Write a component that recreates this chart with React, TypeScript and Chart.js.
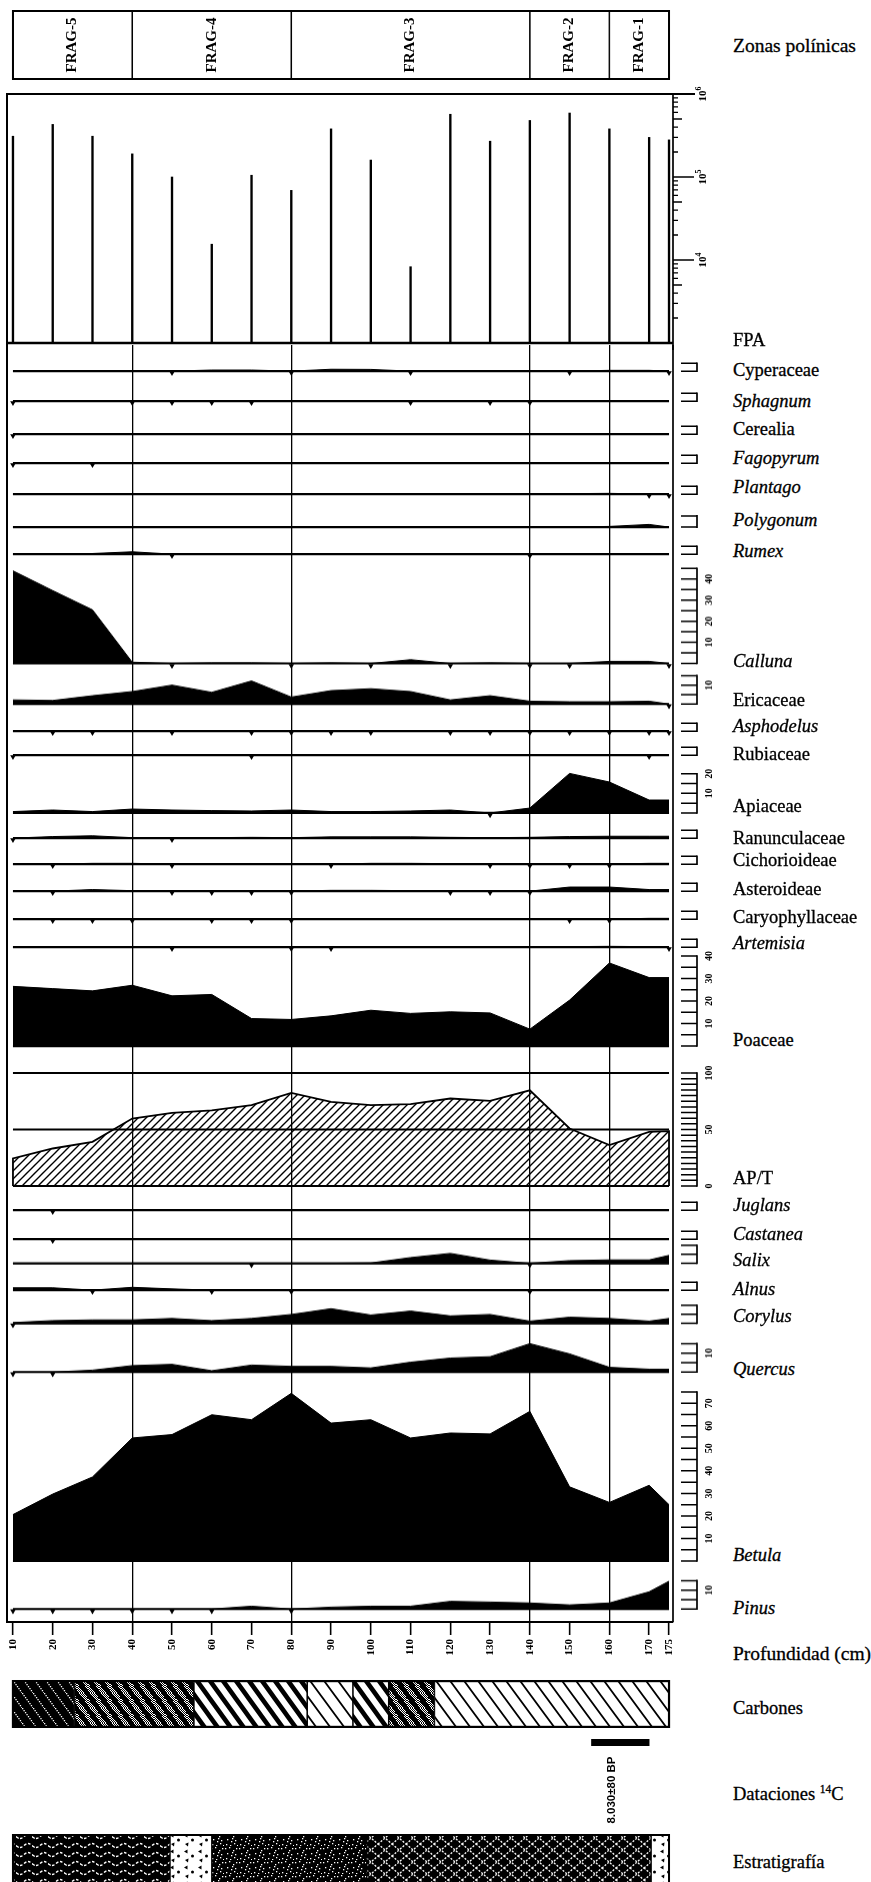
import React, { useEffect, useRef } from 'react';
import { Chart, registerables } from 'chart.js';

Chart.register(...registerables);

// ---------- sample depths (cm) ----------
const depths = [10, 20, 30, 40, 50, 60, 70, 80, 90, 100, 110, 120, 130, 140, 150, 160, 170, 175];

// ---------- pollen zones ----------
const zoneBounds = [10, 40, 80, 140, 160, 175];
const zoneNames = ['FRAG-5', 'FRAG-4', 'FRAG-3', 'FRAG-2', 'FRAG-1'];
const zoneLines = [40, 80, 140, 160];

// ---------- pollen concentration (FPA) ----------
const fpa = [310000, 430000, 310000, 190000, 100000, 15500, 105000, 69000, 380000, 160000, 8300, 570000, 270000, 480000, 590000, 380000, 300000, 280000];
const fpaLabelExps = [4, 5, 6];

// ---------- pollen percentages (one value per depth) and trace occurrences ----------
const cyperaceae = [0, 0, 0, 0.2, 0, 0.7, 0.7, 0, 1.2, 1.1, 0, 0, 0, 0, 0, 0.5, 0.5, 0];
const cyperaceaeTraces = [50, 80, 110, 150, 175];
const sphagnum = [0, 0, 0, 0, 0, 0, 0, 0, 0, 0, 0, 0, 0, 0, 0, 0, 0, 0];
const sphagnumTraces = [10, 40, 50, 60, 70, 110, 130, 140];
const cerealia = [0, 0, 0, 0, 0, 0, 0, 0, 0, 0, 0, 0, 0, 0, 0, 0, 0, 0];
const cerealiaTraces = [10];
const fagopyrum = [0, 0.4, 0, 0, 0, 0, 0, 0, 0, 0, 0, 0, 0, 0, 0, 0, 0, 0];
const fagopyrumTraces = [10, 30];
const plantago = [0, 0, 0, 0, 0, 0, 0, 0, 0, 0, 0, 0, 0, 0, 0.3, 0.5, 0, 0];
const plantagoTraces = [170, 175];
const polygonum = [0, 0, 0, 0, 0, 0, 0, 0, 0, 0, 0, 0, 0, 0, 0, 0.3, 1.2, 0];
const polygonumTraces: number[] = [];
const rumex = [0, 0, 0.4, 1.5, 0, 0, 0, 0, 0, 0, 0, 0, 0, 0, 0, 0, 0, 0];
const rumexTraces = [50, 140];
const calluna = [43.9, 34.5, 25.4, 0.6, 0, 0.3, 0.3, 0, 0.3, 0, 1.8, 0, 0.3, 0, 0, 1, 1, 0];
const callunaTraces = [50, 80, 100, 120, 140, 150, 175];
const ericaceae = [2.2, 1.9, 4.4, 6.6, 10, 6.2, 12.2, 3.7, 7.1, 8.1, 6.6, 2.2, 4.4, 1.5, 1.2, 1.2, 1.5, 0];
const ericaceaeTraces = [175];
const asphodelus = [0, 0, 0, 0, 0, 0, 0, 0, 0, 0, 0, 0, 0, 0, 0, 0, 0, 0];
const asphodelusTraces = [20, 30, 50, 70, 80, 90, 100, 120, 130, 140, 150, 160, 170, 175];
const rubiaceae = [0, 0.4, 0.4, 0.3, 0.2, 0.2, 0, 0, 0, 0, 0, 0, 0, 0.2, 0.3, 0.3, 0, 0.3];
const rubiaceaeTraces = [10, 70, 170];
const apiaceae = [0.7, 1.5, 0.7, 2, 1.5, 1.2, 1, 1.5, 0.7, 0.7, 1, 1.5, 0, 2.5, 20.2, 15.8, 6.6, 6.6];
const apiaceaeTraces = [130];
const ranunculaceae = [0, 1, 1.5, 0.3, 0, 0.3, 0.5, 0.3, 0.8, 0.8, 0.8, 0.5, 0.3, 0.5, 1, 1.2, 1.2, 1.2];
const ranunculaceaeTraces = [10, 50];
const cichorioideae = [0, 0, 0.5, 0.5, 0, 0.3, 0.4, 0, 0, 0.5, 0.5, 0.3, 0, 0, 0, 0, 0.5, 0.5];
const cichorioideaeTraces = [20, 50, 90, 130, 140, 150, 160];
const asteroideae = [0, 0, 1, 0.3, 0, 0, 0, 0, 0.5, 0.5, 0.3, 0, 0, 0, 2.6, 2.6, 1, 1];
const asteroideaeTraces = [20, 50, 60, 70, 80, 120, 130, 140];
const caryophyllaceae = [0, 0, 0, 0, 0.2, 0, 0, 0, 0.3, 0.3, 0.2, 0.2, 0.3, 0.3, 0, 0, 0.5, 0.5];
const caryophyllaceaeTraces = [20, 30, 40, 60, 70, 80, 150, 160];
const artemisia = [0, 0, 0, 0, 0, 0, 0, 0, 0, 0, 0, 0, 0, 0, 0.3, 0.5, 0.3, 0];
const artemisiaTraces = [50, 80, 90, 175];
const poaceae = [26.5, 25.5, 24.5, 27, 22.3, 22.9, 12.2, 11.8, 13.4, 15.9, 14.5, 15.2, 14.7, 7.5, 20.4, 36.9, 30.4, 30.4];
const apt = [24.4, 33.2, 39.1, 59.7, 64.7, 67, 71.5, 82.4, 74.4, 71.5, 72.4, 77.4, 75.3, 84.7, 50.9, 36.2, 47.9, 48.5];
const juglans = [0, 0, 0, 0, 0, 0, 0, 0, 0, 0, 0, 0, 0, 0, 0, 0, 0, 0];
const juglansTraces = [20];
const castanea = [0, 0, 0, 0, 0, 0, 0, 0, 0, 0, 0, 0, 0, 0, 0, 0, 0, 0];
const castaneaTraces = [20];
const salix = [0, 0, 0, 0, 0, 0, 0, 0, 0, 0.2, 3.2, 5.5, 1.8, 0, 1.5, 1.9, 1.9, 4.4];
const salixTraces = [70, 140];
const alnus = [1.5, 1.5, 0, 1.8, 0.8, 0, 0.3, 0, 0.3, 0.3, 0.3, 0.3, 0.3, 0, 0.3, 0.3, 0.3, 0.3];
const alnusTraces = [30, 60, 80, 140];
const corylus = [0.4, 1.5, 1.9, 1.9, 2.7, 1.5, 2.7, 4.9, 8.1, 4.6, 6.8, 4.1, 4.9, 1.2, 3.4, 2.7, 1.2, 2.7];
const corylusTraces = [10];
const quercus = [0, 0, 1, 3.4, 4.1, 0.7, 3.7, 3, 3, 2.2, 5.2, 7.4, 8.1, 15, 9.6, 2.5, 1.5, 1.5];
const quercusTraces = [10, 20];
const betula = [20.6, 29.7, 37.3, 54.6, 56.1, 64.9, 62.7, 74.4, 61.2, 62.7, 54.6, 56.8, 56.4, 66.4, 32.9, 26, 33.6, 25];
const pinus = [0, 0, 0, 0, 0, 0, 1.5, 0, 1, 1.5, 1.5, 4.1, 3.7, 3.2, 2.2, 3.2, 9.1, 14.7];
const pinusTraces = [10, 20, 30, 40, 50, 60, 80];

// ---------- charcoal, dating, stratigraphy ----------
const charcoalBounds = [10, 25.5, 55.5, 84, 95.5, 104.5, 116, 175];
const charcoalClasses = ['dense', 'stippled', 'bold', 'fine', 'bold', 'stippled', 'fine'];
const datingRange = [155.5, 170];
const datingDepth = 160.5;
const datingLabel = '8.030±80 BP';
const stratBounds = [10, 49.5, 60, 99, 170.5, 175];
const stratUnits = ['wavy', 'gravel', 'speckled', 'lattice', 'gravel'];

// ---------- layout ----------
const SERIF = '"Liberation Serif", "Times New Roman", serif';
const SANS = '"Liberation Sans", Arial, sans-serif';
const CW = 730;
const X_LEFT = 7;
const X_RIGHT = 673;
const X_MIN = 8.5;
const X_MAX = 176;
const PCT_PX = 2.26;
const BELOW = 7;
const SCALE_X = 697;
const SCALE_TICK = 16;
const SCALE_LABEL_X = 709;

type PanelDef = {
  name: string;
  italic?: boolean;
  values: number[];
  traces?: number[];
  base: number;
  labelY: number;
  scaleMax?: number;
  scaleLabels?: number[];
  ppp?: number;
  hatch?: boolean;
  refLines?: number[];
};

const panels: PanelDef[] = [
  { name: 'Cyperaceae', values: cyperaceae, traces: cyperaceaeTraces, base: 373, labelY: 370 },
  { name: 'Sphagnum', italic: true, values: sphagnum, traces: sphagnumTraces, base: 403, labelY: 401 },
  { name: 'Cerealia', values: cerealia, traces: cerealiaTraces, base: 436, labelY: 429 },
  { name: 'Fagopyrum', italic: true, values: fagopyrum, traces: fagopyrumTraces, base: 465, labelY: 458 },
  { name: 'Plantago', italic: true, values: plantago, traces: plantagoTraces, base: 496, labelY: 487 },
  { name: 'Polygonum', italic: true, values: polygonum, traces: polygonumTraces, base: 527, labelY: 520 },
  { name: 'Rumex', italic: true, values: rumex, traces: rumexTraces, base: 556, labelY: 551 },
  { name: 'Calluna', italic: true, values: calluna, traces: callunaTraces, base: 667, labelY: 661, scaleMax: 45, scaleLabels: [10, 20, 30, 40] },
  { name: 'Ericaceae', values: ericaceae, traces: ericaceaeTraces, base: 707, labelY: 700, scaleMax: 15, scaleLabels: [10] },
  { name: 'Asphodelus', italic: true, values: asphodelus, traces: asphodelusTraces, base: 733, labelY: 726 },
  { name: 'Rubiaceae', values: rubiaceae, traces: rubiaceaeTraces, base: 757, labelY: 754 },
  { name: 'Apiaceae', values: apiaceae, traces: apiaceaeTraces, base: 816, labelY: 806, scaleMax: 20, scaleLabels: [10, 20] },
  { name: 'Ranunculaceae', values: ranunculaceae, traces: ranunculaceaeTraces, base: 840, labelY: 838 },
  { name: 'Cichorioideae', values: cichorioideae, traces: cichorioideaeTraces, base: 866, labelY: 860 },
  { name: 'Asteroideae', values: asteroideae, traces: asteroideaeTraces, base: 893, labelY: 889 },
  { name: 'Caryophyllaceae', values: caryophyllaceae, traces: caryophyllaceaeTraces, base: 921, labelY: 917 },
  { name: 'Artemisia', italic: true, values: artemisia, traces: artemisiaTraces, base: 949, labelY: 943 },
  { name: 'Poaceae', values: poaceae, base: 1046, labelY: 1040, scaleMax: 40, scaleLabels: [10, 20, 30, 40] },
  { name: 'AP/T', values: apt, base: 1186, labelY: 1178, scaleMax: 100, scaleLabels: [0, 50, 100], ppp: 1.133, hatch: true, refLines: [50, 100] },
  { name: 'Juglans', italic: true, values: juglans, traces: juglansTraces, base: 1212, labelY: 1205 },
  { name: 'Castanea', italic: true, values: castanea, traces: castaneaTraces, base: 1241, labelY: 1234 },
  { name: 'Salix', italic: true, values: salix, traces: salixTraces, base: 1266, labelY: 1260, scaleMax: 10 },
  { name: 'Alnus', italic: true, values: alnus, traces: alnusTraces, base: 1292, labelY: 1289 },
  { name: 'Corylus', italic: true, values: corylus, traces: corylusTraces, base: 1326, labelY: 1316, scaleMax: 10 },
  { name: 'Quercus', italic: true, values: quercus, traces: quercusTraces, base: 1375, labelY: 1369, scaleMax: 15, scaleLabels: [10] },
  { name: 'Betula', italic: true, values: betula, base: 1561, labelY: 1555, scaleMax: 75, scaleLabels: [10, 20, 30, 40, 50, 60, 70] },
  { name: 'Pinus', italic: true, values: pinus, traces: pinusTraces, base: 1612, labelY: 1608, scaleMax: 15, scaleLabels: [10] },
];

const panelAbove = (p: PanelDef) => Math.max(16, (p.scaleMax ?? 5) * (p.ppp ?? PCT_PX) + 9);

// ---------- fill patterns ----------
function tile(w: number, h: number, paint: (g: CanvasRenderingContext2D) => void) {
  const c = document.createElement('canvas');
  c.width = w;
  c.height = h;
  const g = c.getContext('2d') as CanvasRenderingContext2D;
  paint(g);
  return g.createPattern(c, 'repeat') as CanvasPattern;
}

function stripes(w: number, h: number, lw: number, bg: string, fg: string, rising = false) {
  return tile(w, h, (g) => {
    if (bg) {
      g.fillStyle = bg;
      g.fillRect(0, 0, w, h);
    }
    g.strokeStyle = fg;
    g.lineWidth = lw;
    g.beginPath();
    for (const o of [-w, 0, w]) {
      if (rising) {
        g.moveTo(o - w, 2 * h);
        g.lineTo(o + 2 * w, -h);
      } else {
        g.moveTo(o - w, -h);
        g.lineTo(o + 2 * w, 2 * h);
      }
    }
    g.stroke();
  });
}

function makeCharcoalFill(kind: string) {
  if (kind === 'bold') return stripes(13, 18, 4.6, '#fff', '#000');
  if (kind === 'fine') return stripes(14, 19, 1.8, '#fff', '#000');
  if (kind === 'dense')
    return tile(11, 15, (g) => {
      g.fillStyle = '#000';
      g.fillRect(0, 0, 11, 15);
      g.fillStyle = '#fff';
      for (let k = 0; k < 15; k += 2) g.fillRect((k * 11) / 15, k, 1.3, 1.3);
    });
  return tile(11, 15, (g) => {
    g.fillStyle = '#000';
    g.fillRect(0, 0, 11, 15);
    g.fillStyle = '#fff';
    for (let yy = 0; yy < 15; yy++)
      for (let xx = 0; xx < 11; xx++) {
        const off = (((xx - (yy * 11) / 15) % 11) + 11) % 11;
        if (off >= 2 && off < 7 && (xx + yy) % 2 === 0) g.fillRect(xx, yy, 1, 1);
      }
  });
}

function makeStratFill(kind: string) {
  if (kind === 'wavy')
    return tile(16, 9, (g) => {
      g.fillStyle = '#000';
      g.fillRect(0, 0, 16, 9);
      g.strokeStyle = '#fff';
      g.lineWidth = 1.4;
      for (const s of [0, 4, 8, 12]) {
        g.beginPath();
        for (let x = s; x <= s + 2.8; x += 0.4) {
          const y = 4.5 + 2 * Math.sin((2 * Math.PI * x) / 16);
          if (x === s) g.moveTo(x, y);
          else g.lineTo(x, y);
        }
        g.stroke();
      }
    });
  if (kind === 'gravel')
    return tile(14, 16, (g) => {
      g.fillStyle = '#fff';
      g.fillRect(0, 0, 14, 16);
      g.fillStyle = '#000';
      g.beginPath();
      g.moveTo(2, 3.5);
      g.lineTo(5.5, 1.5);
      g.lineTo(5.5, 5.5);
      g.closePath();
      g.fill();
      g.beginPath();
      g.arc(10.5, 8, 1.5, 0, Math.PI * 2);
      g.fill();
      g.beginPath();
      g.moveTo(3, 12);
      g.lineTo(6.5, 10.5);
      g.lineTo(6, 14.5);
      g.closePath();
      g.fill();
    });
  if (kind === 'speckled')
    return tile(14, 14, (g) => {
      g.fillStyle = '#000';
      g.fillRect(0, 0, 14, 14);
      g.fillStyle = '#fff';
      const pts = [[1, 2], [5, 1], [9, 4], [12, 2], [3, 7], [7, 9], [11, 8], [2, 12], [6, 13], [10, 11], [13, 13], [8, 6]];
      for (const [x, y] of pts) g.fillRect(x, y, 1.3, 1.3);
    });
  return tile(14, 12, (g) => {
    g.fillStyle = '#000';
    g.fillRect(0, 0, 14, 12);
    g.strokeStyle = '#fff';
    g.lineWidth = 1.3;
    g.setLineDash([2, 1.5]);
    g.beginPath();
    g.moveTo(0, 0);
    g.lineTo(14, 12);
    g.moveTo(0, 12);
    g.lineTo(14, 0);
    g.stroke();
  });
}

// ---------- shared chart options ----------
function baseOptions(y: any, padding: any = {}) {
  return {
    responsive: false,
    animation: false,
    devicePixelRatio: 1,
    events: [],
    layout: { padding: { left: X_LEFT, right: CW - X_RIGHT, top: 0, bottom: 0, ...padding } },
    plugins: { legend: { display: false }, tooltip: { enabled: false } },
    scales: {
      x: { type: 'linear', min: X_MIN, max: X_MAX, offset: false, display: false },
      y,
    },
  };
}

function rotatedText(ctx: CanvasRenderingContext2D, text: string, x: number, y: number, font: string) {
  ctx.save();
  ctx.font = font;
  ctx.textAlign = 'center';
  ctx.textBaseline = 'middle';
  ctx.fillStyle = '#000';
  ctx.translate(x, y);
  ctx.rotate(-Math.PI / 2);
  ctx.fillText(text, 0, 0);
  ctx.restore();
}

// scale bar with a tick every `step` percent, drawn beside each curve
function scaleBar(maxV: number, labels: number[], step = 5) {
  return {
    id: 'scaleBar',
    afterDraw(chart: any) {
      const { ctx } = chart;
      const y = chart.scales.y;
      ctx.save();
      ctx.strokeStyle = '#000';
      ctx.lineWidth = 1.7;
      ctx.beginPath();
      ctx.moveTo(SCALE_X, y.getPixelForValue(0) + 0.8);
      ctx.lineTo(SCALE_X, y.getPixelForValue(maxV) - 0.8);
      ctx.stroke();
      ctx.lineWidth = 1.5;
      ctx.beginPath();
      for (let v = 0; v <= maxV + 1e-6; v += step) {
        const p = y.getPixelForValue(v);
        ctx.moveTo(SCALE_X - SCALE_TICK, p);
        ctx.lineTo(SCALE_X, p);
      }
      ctx.stroke();
      for (const v of labels) rotatedText(ctx, String(v), SCALE_LABEL_X, y.getPixelForValue(v), `bold 10px ${SERIF}`);
      ctx.restore();
    },
  };
}

function taxonConfig(p: PanelDef) {
  const ppp = p.ppp ?? PCT_PX;
  const above = panelAbove(p);
  const first = depths[0];
  const last = depths[depths.length - 1];
  const series = depths.map((d, i) => ({ x: d, y: p.values[i] }));
  const datasets: any[] = [];
  if (p.hatch) {
    datasets.push({
      data: [{ x: first, y: 0 }, ...series, { x: last, y: 0 }],
      fill: 'origin',
      backgroundColor: stripes(8, 8, 1.4, '', '#000', true),
      borderColor: '#000',
      borderWidth: 1.8,
      pointRadius: 0,
      tension: 0,
    });
  } else {
    datasets.push({
      data: series,
      fill: 'origin',
      backgroundColor: '#000',
      borderColor: '#000',
      borderWidth: 1,
      pointRadius: 0,
      tension: 0,
    });
  }
  for (const ref of [0, ...(p.refLines ?? [])]) {
    datasets.push({
      data: [{ x: first, y: ref }, { x: last, y: ref }],
      borderColor: '#000',
      borderWidth: 2.2,
      pointRadius: 0,
      fill: false,
    });
  }
  if (p.traces && p.traces.length) {
    datasets.push({
      data: p.traces.map((d) => ({ x: d, y: -2.4 / ppp })),
      showLine: false,
      pointStyle: 'triangle',
      pointRotation: 180,
      pointRadius: 3.2,
      pointBackgroundColor: '#000',
      pointBorderWidth: 0,
    });
  }
  return {
    type: 'line',
    data: { datasets },
    options: baseOptions({ type: 'linear', min: -BELOW / ppp, max: above / ppp, display: false }),
    plugins: [scaleBar(p.scaleMax ?? 5, p.scaleLabels ?? [], 5)],
  };
}

function fpaConfig() {
  const frame = {
    id: 'fpaFrame',
    afterDraw(chart: any) {
      const { ctx, chartArea: a } = chart;
      const y = chart.scales.y;
      ctx.save();
      ctx.strokeStyle = '#000';
      ctx.lineWidth = 2;
      ctx.beginPath();
      ctx.moveTo(a.left - 1, a.top);
      ctx.lineTo(a.right + 22, a.top);
      ctx.moveTo(a.left, a.top);
      ctx.lineTo(a.left, chart.height);
      ctx.stroke();
      ctx.lineWidth = 2.5;
      ctx.beginPath();
      ctx.moveTo(a.left, a.bottom);
      ctx.lineTo(a.right, a.bottom);
      ctx.stroke();
      ctx.lineWidth = 1.7;
      ctx.beginPath();
      ctx.moveTo(a.right, a.top);
      ctx.lineTo(a.right, chart.height);
      ctx.stroke();
      ctx.lineWidth = 1.3;
      ctx.beginPath();
      for (let e = 3; e < 6; e++) {
        for (let m = 1; m < 10; m++) {
          const len = m === 1 ? (e === 3 ? 0 : 21) : m === 5 ? 9 : 5;
          if (!len) continue;
          const pix = y.getPixelForValue(m * Math.pow(10, e));
          ctx.moveTo(a.right, pix);
          ctx.lineTo(a.right + len, pix);
        }
      }
      ctx.stroke();
      for (const e of fpaLabelExps) {
        const pix = y.getPixelForValue(Math.pow(10, e));
        ctx.save();
        ctx.translate(a.right + 29, pix);
        ctx.rotate(-Math.PI / 2);
        ctx.fillStyle = '#000';
        ctx.textBaseline = 'middle';
        ctx.textAlign = 'left';
        ctx.font = `bold 11px ${SERIF}`;
        const w1 = ctx.measureText('10').width;
        ctx.font = `bold 8px ${SERIF}`;
        const w2 = ctx.measureText(String(e)).width;
        const x0 = -(w1 + w2) / 2;
        ctx.font = `bold 11px ${SERIF}`;
        ctx.fillText('10', x0, 1.5);
        ctx.font = `bold 8px ${SERIF}`;
        ctx.fillText(String(e), x0 + w1, -3);
        ctx.restore();
      }
      ctx.restore();
    },
  };
  return {
    type: 'bar',
    data: {
      datasets: [
        {
          data: depths.map((d, i) => ({ x: d, y: fpa[i] })),
          backgroundColor: '#000',
          barThickness: 1.7,
          borderWidth: 0,
        },
      ],
    },
    options: baseOptions({ type: 'logarithmic', min: 1000, max: 1000000, display: false }, { top: 14, bottom: 7 }),
    plugins: [frame],
  };
}

function depthAxisConfig() {
  const frame = {
    id: 'frame',
    afterDraw(chart: any) {
      const { ctx, chartArea: a } = chart;
      ctx.save();
      ctx.strokeStyle = '#000';
      ctx.lineWidth = 2;
      ctx.beginPath();
      ctx.moveTo(a.left, a.top);
      ctx.lineTo(a.left, a.bottom);
      ctx.stroke();
      ctx.lineWidth = 1.7;
      ctx.beginPath();
      ctx.moveTo(a.right, a.top);
      ctx.lineTo(a.right, a.bottom);
      ctx.stroke();
      ctx.restore();
    },
  };
  const opts: any = baseOptions({ type: 'linear', min: 0, max: 1, display: false });
  opts.scales.x = {
    type: 'linear',
    min: X_MIN,
    max: X_MAX,
    offset: false,
    position: 'bottom',
    display: true,
    afterBuildTicks: (s: any) => {
      s.ticks = depths.map((v) => ({ value: v }));
    },
    afterFit: (s: any) => {
      s.height = 40;
    },
    grid: {
      color: (c: any) => (c.tick && zoneLines.includes(c.tick.value) ? '#000' : 'rgba(0,0,0,0)'),
      tickColor: '#000',
      lineWidth: 1.3,
      tickWidth: 1.6,
      tickLength: 13,
      drawOnChartArea: true,
      drawTicks: true,
    },
    border: { display: true, color: '#000', width: 2 },
    ticks: {
      autoSkip: false,
      minRotation: 90,
      maxRotation: 90,
      padding: 4,
      color: '#000',
      font: { family: SERIF, size: 11, weight: 'bold' },
      callback: (v: any) => String(v),
    },
  };
  return { type: 'line', data: { datasets: [] }, options: opts, plugins: [frame] };
}

function outline(from: number, to: number, lw: number) {
  return {
    id: 'outline',
    afterDraw(chart: any) {
      const { ctx, chartArea: a } = chart;
      const x = chart.scales.x;
      const x0 = x.getPixelForValue(from);
      const x1 = x.getPixelForValue(to);
      ctx.save();
      ctx.strokeStyle = '#000';
      ctx.lineWidth = lw;
      ctx.strokeRect(x0, a.top + lw / 2, x1 - x0, a.bottom - a.top - lw);
      ctx.restore();
    },
  };
}

function segmentsConfig(bounds: number[], fills: any[], bw: number, padding: any, plugins: any[]) {
  const opts: any = baseOptions({ type: 'category', display: false }, padding);
  opts.indexAxis = 'y';
  return {
    type: 'bar',
    data: {
      labels: ['s'],
      datasets: fills.map((f, i) => ({
        data: [[bounds[i], bounds[i + 1]]],
        backgroundColor: f,
        borderColor: '#000',
        borderWidth: bw,
        borderSkipped: false,
        barPercentage: 1,
        categoryPercentage: 1,
        grouped: false,
      })),
    },
    options: opts,
    plugins,
  };
}

function zoneConfig() {
  const names = {
    id: 'zoneNames',
    afterDraw(chart: any) {
      const { ctx, chartArea: a } = chart;
      const x = chart.scales.x;
      zoneNames.forEach((n, i) => {
        const cx = x.getPixelForValue((zoneBounds[i] + zoneBounds[i + 1]) / 2);
        rotatedText(ctx, n, cx, (a.top + a.bottom) / 2, `bold 15px ${SERIF}`);
      });
    },
  };
  return segmentsConfig(
    zoneBounds,
    zoneNames.map(() => '#fff'),
    1.1,
    { top: 2, bottom: 2 },
    [outline(zoneBounds[0], zoneBounds[zoneBounds.length - 1], 2), names]
  );
}

function charcoalConfig() {
  return segmentsConfig(
    charcoalBounds,
    charcoalClasses.map(makeCharcoalFill),
    1.1,
    { top: 2, bottom: 2 },
    [outline(charcoalBounds[0], charcoalBounds[charcoalBounds.length - 1], 2.2)]
  );
}

function stratConfig() {
  return segmentsConfig(
    stratBounds,
    stratUnits.map(makeStratFill),
    1,
    { top: 2, bottom: 0 },
    [outline(stratBounds[0], stratBounds[stratBounds.length - 1], 2)]
  );
}

function datingConfig() {
  const label = {
    id: 'datingLabel',
    afterDraw(chart: any) {
      const { ctx, chartArea: a } = chart;
      const x = chart.scales.x;
      rotatedText(ctx, datingLabel, x.getPixelForValue(datingDepth), a.bottom + 44, `bold 11.5px ${SANS}`);
    },
  };
  return segmentsConfig(datingRange, ['#000'], 0, { top: 3, bottom: 82 }, [label]);
}

// ---------- components ----------
function ChartCanvas({ top, height, build }: { top: number; height: number; build: () => any }) {
  const ref = useRef<HTMLCanvasElement | null>(null);
  useEffect(() => {
    if (!ref.current) return;
    const chart = new Chart(ref.current, build());
    return () => chart.destroy();
  }, []);
  return (
    <canvas
      ref={ref}
      width={CW}
      height={height}
      style={{ position: 'absolute', left: 0, top, width: CW, height, display: 'block' }}
    />
  );
}

function SideLabel({ y, italic, size = 18.5, children }: { y: number; italic?: boolean; size?: number; children: any }) {
  return (
    <div
      style={{
        position: 'absolute',
        left: 733,
        top: y,
        transform: 'translateY(-50%)',
        fontFamily: SERIF,
        fontSize: size,
        lineHeight: 1,
        fontStyle: italic ? 'italic' : 'normal',
        whiteSpace: 'nowrap',
        color: '#000',
        WebkitTextStroke: '0.3px #000',
      }}
    >
      {children}
    </div>
  );
}

export default function App() {
  return (
    <div style={{ position: 'absolute', left: 0, top: 0, width: 871, height: 1882, overflow: 'hidden', background: '#fff' }}>
      <ChartCanvas top={8} height={74} build={zoneConfig} />
      <ChartCanvas top={80} height={270} build={fpaConfig} />
      <ChartCanvas top={345} height={1317} build={depthAxisConfig} />
      {panels.map((p) => {
        const above = panelAbove(p);
        return <ChartCanvas key={p.name} top={p.base - above} height={above + BELOW} build={() => taxonConfig(p)} />;
      })}
      <ChartCanvas top={1678} height={52} build={charcoalConfig} />
      <ChartCanvas top={1736} height={92} build={datingConfig} />
      <ChartCanvas top={1832} height={56} build={stratConfig} />

      <SideLabel y={46} size={19.5}>Zonas polínicas</SideLabel>
      <SideLabel y={340}>FPA</SideLabel>
      {panels.map((p) => (
        <SideLabel key={p.name} y={p.labelY} italic={p.italic}>
          {p.name}
        </SideLabel>
      ))}
      <SideLabel y={1654} size={19.5}>Profundidad (cm)</SideLabel>
      <SideLabel y={1708}>Carbones</SideLabel>
      <SideLabel y={1794}>
        Dataciones <sup style={{ fontSize: '0.62em', verticalAlign: '0.55em', lineHeight: 0 }}>14</sup>C
      </SideLabel>
      <SideLabel y={1862}>Estratigrafía</SideLabel>
    </div>
  );
}
